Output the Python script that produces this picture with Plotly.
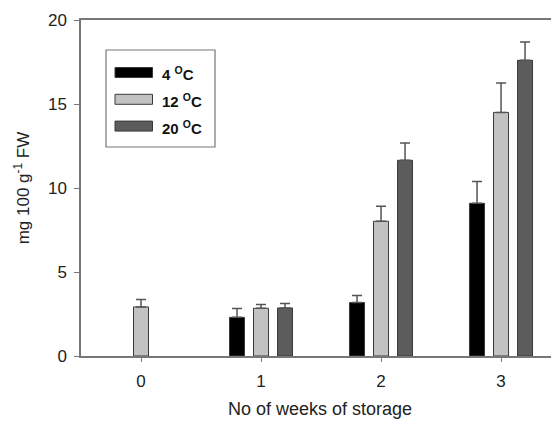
import plotly.graph_objects as go

weeks = ["0", "1", "2", "3"]
series_names = ["4 <sup>O</sup>C", "12 <sup>O</sup>C", "20 <sup>O</sup>C"]
vals_4 = [None, 2.30, 3.18, 9.09]
err_4 = [0, 0.52, 0.42, 1.29]
vals_12 = [2.92, 2.84, 8.02, 14.5]
err_12 = [0.45, 0.22, 0.90, 1.75]
vals_20 = [None, 2.86, 11.65, 17.6]
err_20 = [0, 0.26, 1.03, 1.09]
colors = ["#000000", "#c2c2c2", "#5c5c5c"]
yticks = [0, 5, 10, 15, 20]

# page body has a default 8px margin
OFF = 8
W, H = 551, 414
L, R, T, B = 73, 0, 12, 66

fig = go.Figure()
for name, v, e, c in zip(series_names, [vals_4, vals_12, vals_20], [err_4, err_12, err_20], colors):
    fig.add_trace(go.Bar(
        x=weeks, y=v, name=name,
        marker=dict(color=c, line=dict(color="#3a3a3a", width=1)),
        error_y=dict(type="data", symmetric=False, array=e, arrayminus=[0]*len(e),
                     color="#555555", thickness=1.5, width=5),
        showlegend=False,
    ))

def px(x):
    return (x - OFF - L) / (W - L - R)

def py(y):
    return (H - B - (y - OFF)) / (H - T - B)

# custom legend (page pixel positions)
shapes = [dict(type="rect", xref="paper", yref="paper",
               x0=px(106), x1=px(215), y0=py(147), y1=py(50),
               line=dict(color="#777777", width=1.2), fillcolor="rgba(0,0,0,0)")]
annotations = []
for i, (name, c) in enumerate(zip(series_names, colors)):
    yc = 72.5 + i * 26.8
    shapes.append(dict(type="rect", xref="paper", yref="paper",
                       x0=px(115), x1=px(152.5), y0=py(yc + 5), y1=py(yc - 5),
                       line=dict(color="#3a3a3a", width=1), fillcolor=c))
    annotations.append(dict(xref="paper", yref="paper", x=px(160), y=py(yc + 1),
                            xanchor="left", yanchor="middle", showarrow=False,
                            text="<b>" + name + "</b>",
                            font=dict(family="Liberation Sans, Arial", size=15, color="#111111")))

fig.update_layout(
    width=W, height=H,
    margin=dict(l=L, r=R, t=T, b=B, pad=0),
    paper_bgcolor="white", plot_bgcolor="white",
    barmode="group", bargap=0.4, bargroupgap=0.375,
    font=dict(family="Liberation Sans, Arial", size=17, color="#222222"),
    shapes=shapes, annotations=annotations,
    xaxis=dict(
        type="category", range=[-0.5, 3.483],
        showline=True, linecolor="#777777", linewidth=1.5, mirror=True,
        ticks="outside", ticklen=4, tickcolor="#777777", tickwidth=1.2,
        showgrid=False, zeroline=False,
        tickfont=dict(size=17), ticklabelstandoff=5,
        title=dict(text="No of weeks of storage", font=dict(size=18), standoff=12),
    ),
    yaxis=dict(
        range=[0, 20], tickvals=yticks,
        showline=True, linecolor="#777777", linewidth=1.5,
        ticks="outside", ticklen=5, tickcolor="#777777", tickwidth=1.2,
        showgrid=False, zeroline=False,
        tickfont=dict(size=17), ticklabelstandoff=4,
        title=dict(text="mg 100 g<sup>-1</sup> FW", font=dict(size=17), standoff=14),
    ),
)

fig.write_html("out.html")
